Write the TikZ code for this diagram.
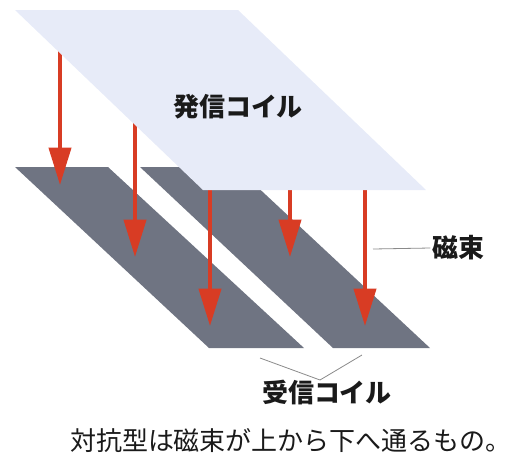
\documentclass[tikz,border=0pt]{standalone}
\usepackage{fontspec}
\setmainfont{Noto Sans CJK JP}
\usepackage{xcolor}
\usetikzlibrary{arrows.meta}
\definecolor{plateL}{HTML}{E7EBF8}
\definecolor{coilG}{HTML}{6F7482}
\definecolor{fluxR}{HTML}{D83C24}
\definecolor{leadG}{HTML}{8A8A8A}
\definecolor{txtK}{HTML}{1A1A1A}

\begin{document}
\begin{tikzpicture}[x=0.75pt, y=-0.75pt,
    flux/.style={fluxR, line width=3pt, -{Triangle[length=28pt, width=16.5pt]}},
    leader/.style={leadG, line width=0.6pt},
    lbl/.style={text=txtK, font=\fontsize{19.5}{22}\selectfont\bfseries, inner sep=1pt},
    notelbl/.style={lbl, font=\fontsize{19.5}{22}\selectfont}]
  \useasboundingbox (0,0) rectangle (515,458);

  % receiving coils (two slanted strips)
  \fill[coilG] (15,167) -- (108,167) -- (304,348) -- (209,348) -- cycle;
  \fill[coilG] (140,167) -- (236,167) -- (430,348) -- (333,348) -- cycle;

  % flux arrows, tails start just inside the plate
  \foreach \i/\x/\s/\y in {
    1/60/45/185,
    2/135/115/257,
    3/210/185/326,
    4/290/185/257,
    5/365/185/326}{
    \coordinate (top\i) at (\x,\s);
    \coordinate (tip\i) at (\x,\y);
    \draw[flux] (top\i) -- (tip\i);
  }

  % transmitting coil
  \fill[plateL] (15,10) -- (238,10) -- (426,190) -- (203,190) -- cycle;
  \node[lbl] (tx) at (238,107) {発信コイル};

  % flux label
  \node[lbl] (fluxlbl) at (458,248) {磁束};
  \coordinate (fluxend) at (373,249);
  \draw[leader] (fluxlbl.west) -- (fluxend);

  % receiving coil label
  \node[lbl] (rx) at (327,393) {受信コイル};
  \coordinate (rxA) at (260,358);
  \coordinate (rxB) at (320,380);
  \coordinate (rxC) at (362,355);
  \draw[leader] (rxA) -- (rxB) -- (rxC);

  \node[notelbl] (note) at (291,441) {対抗型は磁束が上から下へ通るもの。};
\end{tikzpicture}
\end{document}
